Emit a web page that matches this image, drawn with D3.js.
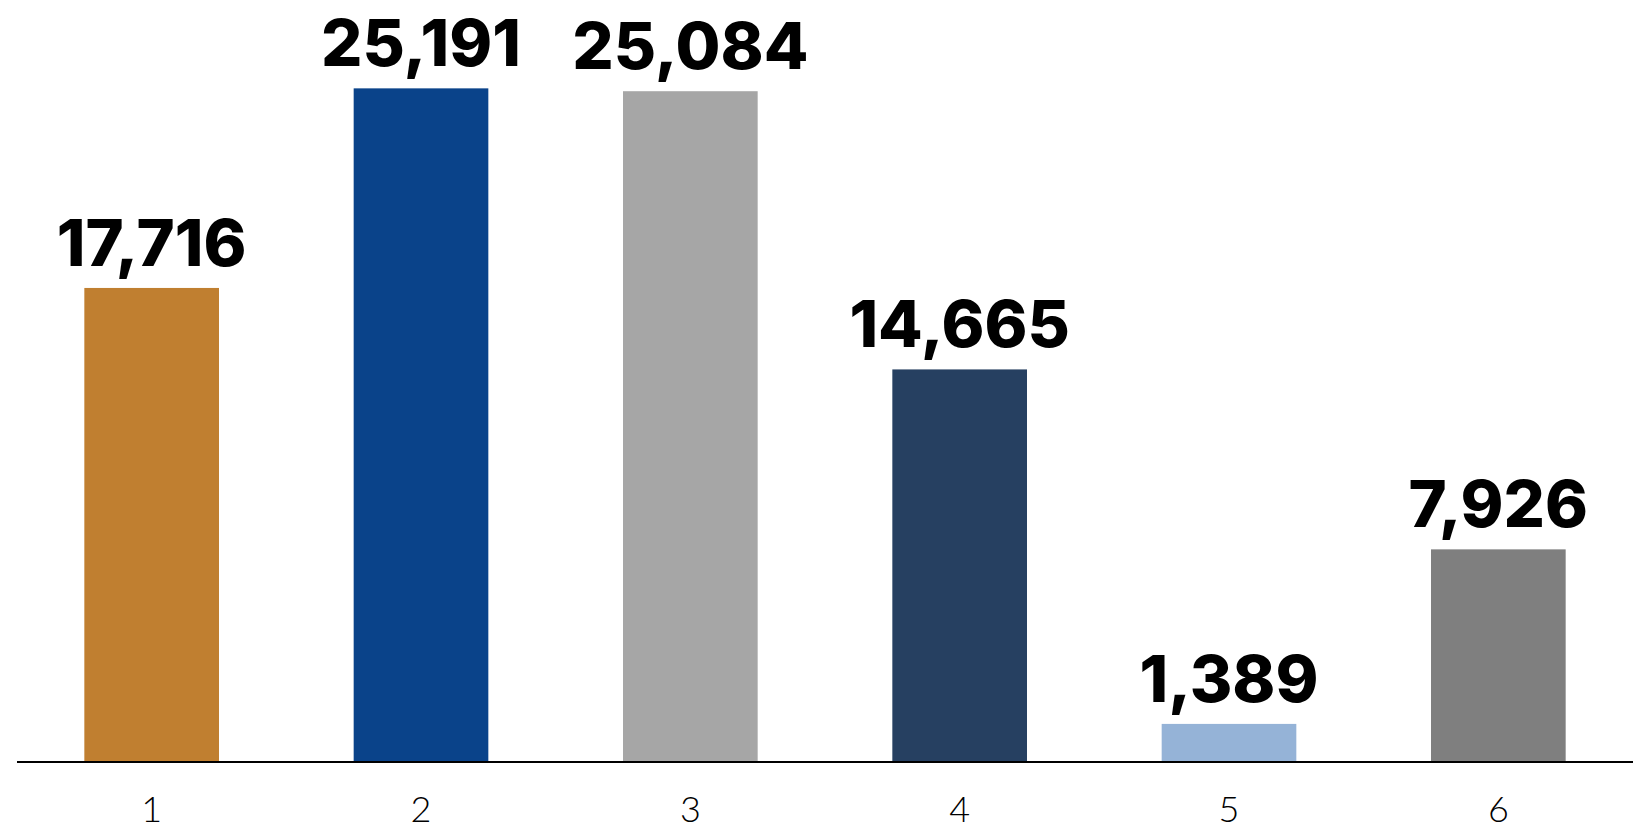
<!DOCTYPE html>
<html>
<head>
<meta charset="utf-8">
<script src="https://cdn.jsdelivr.net/npm/d3@7"></script>
<style>
  html, body { margin: 0; padding: 0; background: #fff; }
  svg { display: block; }
</style>
</head>
<body>
<svg id="chart" width="1633" height="830"></svg>
<script>
const categories = ["1", "2", "3", "4", "5", "6"];
const values = [17716, 25191, 25084, 14665, 1389, 7926];
const colors = ["#C07F30", "#0A438A", "#A6A6A6", "#264061", "#95B3D7", "#7F7F7F"];

const svg = d3.select("#chart");
const left = 17, right = 1633, baseY = 761;

const x = d3.scaleBand().domain(categories).range([left, right])
  .paddingInner(0.5).paddingOuter(0.25);
const y = d3.scaleLinear().domain([0, 28500]).range([baseY, 0]);

const data = categories.map((c, i) => ({ c, v: values[i], color: colors[i] }));

svg.selectAll("rect.bar").data(data).enter().append("rect")
  .attr("class", "bar")
  .attr("x", d => x(d.c))
  .attr("y", d => y(d.v))
  .attr("width", x.bandwidth())
  .attr("height", d => y(0) - y(d.v))
  .attr("fill", d => d.color);

svg.selectAll("text.val").data(data).enter().append("text")
  .attr("class", "val")
  .attr("x", d => x(d.c) + x.bandwidth() / 2)
  .attr("y", d => y(d.v) - 22)
  .attr("text-anchor", "middle")
  .attr("font-family", "Inter, 'Open Sans', sans-serif")
  .attr("font-weight", 800)
  .attr("font-size", 65)
  .attr("fill", "#000")
  .text(d => d3.format(",")(d.v));

const axis = d3.axisBottom(x).tickSize(0).tickPadding(0);
const g = svg.append("g").attr("transform", `translate(0,${baseY + 1})`).call(axis);
g.select(".domain").attr("stroke", "#000").attr("stroke-width", 2)
  .attr("d", `M${left},0H${right}`);
g.selectAll(".tick text")
  .attr("y", 60)
  .attr("dy", 0)
  .attr("font-family", "Lato, 'Open Sans', sans-serif")
  .attr("font-weight", 300)
  .attr("font-size", 36)
  .attr("fill", "#000");
</script>
</body>
</html>
